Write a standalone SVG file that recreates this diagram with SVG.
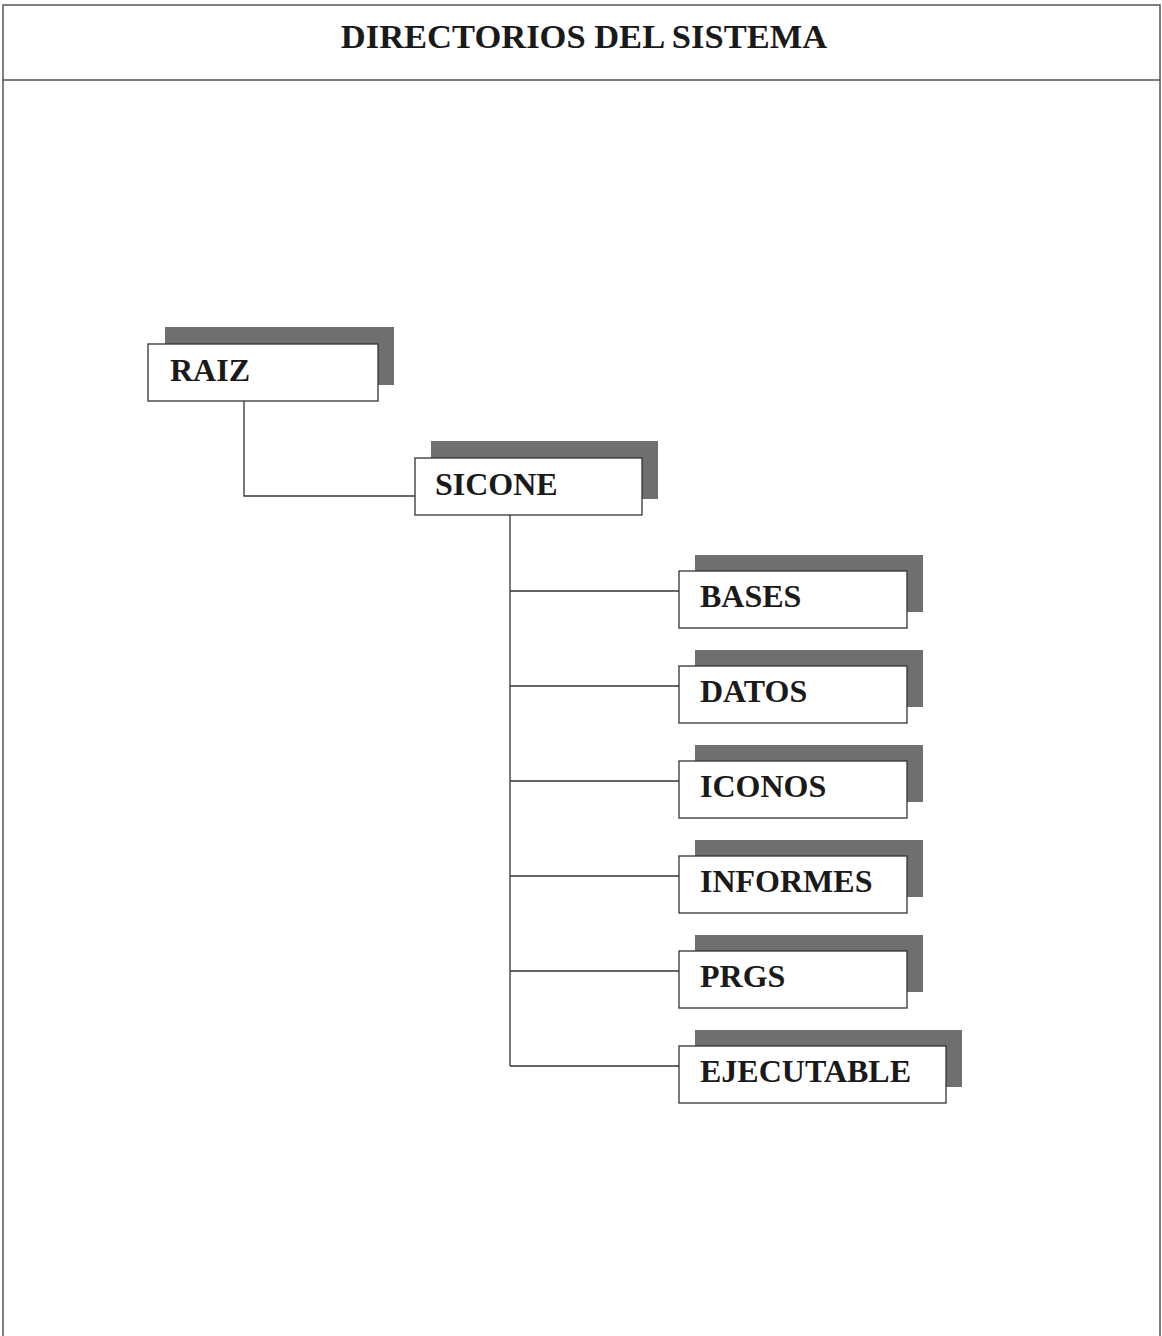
<svg xmlns="http://www.w3.org/2000/svg" width="1162" height="1336" viewBox="0 0 1162 1336">
<style>
.frame{fill:none;stroke:#555;stroke-width:1.5}
.shadow{fill:#6f6f6f}
.box{fill:#fff;stroke:#333;stroke-width:1.3}
.lbl{font-family:"Liberation Serif",serif;font-weight:bold;font-size:32px;fill:#1a1a1a}
.title{font-family:"Liberation Serif",serif;font-weight:bold;font-size:34.5px;fill:#1a1a1a}
.conn{fill:none;stroke:#333;stroke-width:1.3}
</style>
<rect width="1162" height="1336" fill="#fff"/>
<g id="frame">
<path class="frame" d="M3,1336 V5 H1160 V1336"/>
<line class="frame" x1="3" y1="80" x2="1160" y2="80"/>
<text class="title" x="584" y="48" text-anchor="middle">DIRECTORIOS DEL SISTEMA</text>
</g>
<g id="connectors">
<path class="conn" d="M244,401 V496 H415"/>
<path class="conn" d="M510,515 V1066"/>
<path class="conn" d="M510,591 H679 M510,686 H679 M510,781 H679 M510,876 H679 M510,971 H679 M510,1066 H679"/>
</g>
<g id="raiz">
<rect class="shadow" x="165" y="327" width="229" height="58"/>
<rect class="box" x="148" y="344" width="230" height="57"/>
<text class="lbl" x="170" y="381">RAIZ</text>
</g>
<g id="sicone">
<rect class="shadow" x="431" y="441" width="227" height="58"/>
<rect class="box" x="415" y="458" width="227" height="57"/>
<text class="lbl" x="435" y="495">SICONE</text>
</g>
<g id="bases">
<rect class="shadow" x="695" y="555" width="228" height="57"/>
<rect class="box" x="679" y="571" width="228" height="57"/>
<text class="lbl" x="700" y="607">BASES</text>
</g>
<g id="datos">
<rect class="shadow" x="695" y="650" width="228" height="57"/>
<rect class="box" x="679" y="666" width="228" height="57"/>
<text class="lbl" x="700" y="702">DATOS</text>
</g>
<g id="iconos">
<rect class="shadow" x="695" y="745" width="228" height="57"/>
<rect class="box" x="679" y="761" width="228" height="57"/>
<text class="lbl" x="700" y="797">ICONOS</text>
</g>
<g id="informes">
<rect class="shadow" x="695" y="840" width="228" height="57"/>
<rect class="box" x="679" y="856" width="228" height="57"/>
<text class="lbl" x="700" y="892">INFORMES</text>
</g>
<g id="prgs">
<rect class="shadow" x="695" y="935" width="228" height="57"/>
<rect class="box" x="679" y="951" width="228" height="57"/>
<text class="lbl" x="700" y="987">PRGS</text>
</g>
<g id="ejecutable">
<rect class="shadow" x="695" y="1030" width="267" height="57"/>
<rect class="box" x="679" y="1046" width="267" height="57"/>
<text class="lbl" x="700" y="1082">EJECUTABLE</text>
</g>
</svg>
